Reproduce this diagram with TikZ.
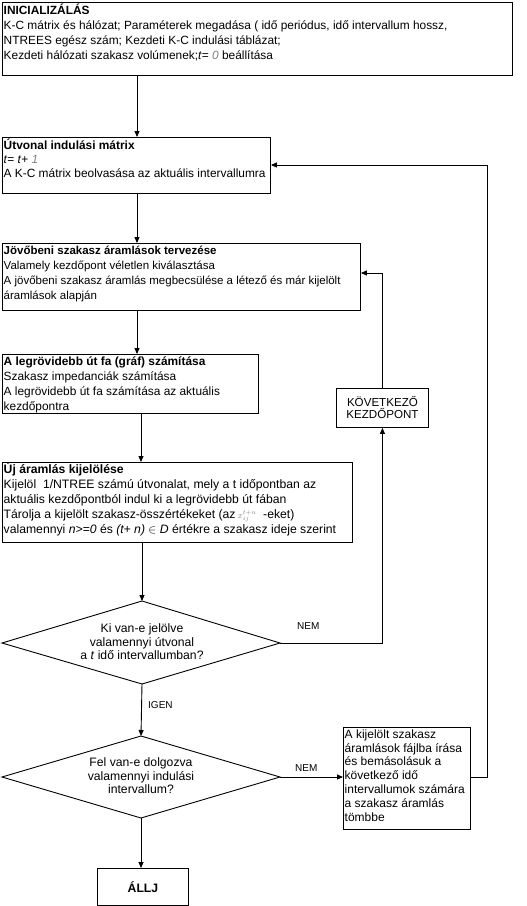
\documentclass[tikz,border=0pt]{standalone}
\usepackage{fontspec}
\setmainfont{Liberation Sans}
\usetikzlibrary{arrows.meta}
\begin{document}
\begin{tikzpicture}[x=1pt,y=-1pt,
  lw/.style={line width=0.9pt},
  tbox/.style={draw, lw, anchor=north west, inner sep=0pt},
  txt/.style={anchor=north west, align=left, inner sep=0pt, font=\fontsize{11.9}{15}\selectfont},
  txtb/.style={anchor=north west, align=left, inner sep=0pt, font=\fontsize{12}{13.8}\selectfont},
  ctxt/.style={align=center, inner sep=0pt, font=\fontsize{12.2}{13.5}\selectfont},
  arr/.style={lw, -{Triangle[width=5pt,length=6pt]}},
  lab/.style={font=\fontsize{10}{12}\selectfont, inner sep=0pt}]
\useasboundingbox (0,0) rectangle (527,906);
\fill[white] (0,0) rectangle (527,906);
\newcommand\fs{\rule{0pt}{10.5pt}}
% boxes
\node[tbox, minimum width=510pt, minimum height=73pt] (b1) at (2,2) {};
\node[txt] (t1) at ([shift={(1.5pt,-1.5pt)}]b1.north west) {\fs\textbf{INICIALIZÁLÁS}\\
K-C mátrix és hálózat; Paraméterek megadása ( idő periódus, idő intervallum hossz,\\
NTREES egész szám; Kezdeti K-C indulási táblázat;\\
Kezdeti hálózati szakasz volúmenek;\textit{t}= \textit{\textcolor{gray}{0}} beállítása};

\node[tbox, minimum width=268pt, minimum height=56pt] (b2) at (2,137) {};
\node[txt, font=\fontsize{11.9}{14}\selectfont] (t2) at ([shift={(1.5pt,-1.5pt)}]b2.north west) {\fs\textbf{Útvonal indulási mátrix}\\
\textit{t}= \textit{t}+ \textit{\textcolor{gray}{1}}\\
A K-C mátrix beolvasása az aktuális intervallumra};

\node[tbox, minimum width=358pt, minimum height=67pt] (b3) at (2,243) {};
\node[txt, font=\fontsize{11.5}{15}\selectfont] (t3) at ([shift={(1.5pt,-0.5pt)}]b3.north west) {\fs\textbf{Jövőbeni szakasz áramlások tervezése}\\
Valamely kezdőpont véletlen kiválasztása\\
A jövőbeni szakasz áramlás megbecsülése a létező és már kijelölt\\
áramlások alapján};

\node[tbox, minimum width=256pt, minimum height=59pt] (b4) at (2,354) {};
\node[txt] (t4) at ([shift={(1.5pt,-0.5pt)}]b4.north west) {\fs\textbf{A legrövidebb út fa (gráf) számítása}\\
Szakasz impedanciák számítása\\
A legrövidebb út fa számítása az aktuális\\
kezdőpontra};

\node[tbox, minimum width=92pt, minimum height=39pt] (k) at (336,388) {};
\node[ctxt, font=\fontsize{11.6}{12}\selectfont] (tk) at (k.center) {KÖVETKEZŐ\\KEZDŐPONT};

\node[tbox, minimum width=350pt, minimum height=80pt] (b5) at (2,462) {};
\node[txt, font=\fontsize{12.2}{15}\selectfont] (t5) at ([shift={(1.5pt,-0.5pt)}]b5.north west) {\fs\textbf{Új áramlás kijelölése}\\
Kijelöl\ \ 1/NTREE számú útvonalat, mely a t időpontban az\\
aktuális kezdőpontból indul ki a legrövidebb út fában\\
Tárolja a kijelölt szakasz-összértékeket (az\,\textcolor{gray}{$\scriptstyle x_{ij}^{t+n}$}\ \ -eket)\\
valamennyi \textit{n>=0} és \textit{(t+ n)} $\in$ \textit{D} értékre a szakasz ideje szerint};

\node[tbox, minimum width=127pt, minimum height=102pt] (b6) at (343,727) {};
\node[txtb] (t6) at ([shift={(1.5pt,-0.5pt)}]b6.north west) {\fs A kijelölt szakasz\\
áramlások fájlba írása\\
és bemásolásuk a\\
következő idő\\
intervallumok számára\\
a szakasz áramlás\\
tömbbe};

\node[tbox, minimum width=91pt, minimum height=37pt] (stop) at (97,868) {};
\node[ctxt] (ts) at (stop.center) {\textbf{ÁLLJ}};

% diamonds
\node[ctxt] (d1) at (142,642) {Ki van-e jelölve\\valamennyi útvonal\\a \textit{t} idő intervallumban?};
\coordinate (d1t) at (142,601);
\coordinate (d1r) at (280,643);
\coordinate (d1b) at (142,684);
\coordinate (d1l) at (2,643);
\draw[lw] (d1t) -- (d1r) -- (d1b) -- (d1l) -- cycle;

\node[ctxt] (d2) at (141,776) {Fel van-e dolgozva\\valamennyi indulási\\intervallum?};
\coordinate (d2t) at (141,736);
\coordinate (d2r) at (280,777);
\coordinate (d2b) at (141,818);
\coordinate (d2l) at (2,777);
\draw[lw] (d2t) -- (d2r) -- (d2b) -- (d2l) -- cycle;

% columns
\coordinate (c1) at (137,0);
\coordinate (c2) at (141,0);
\coordinate (ck) at (382,0);
\coordinate (cr) at (487,0);

\draw[arr] (b1.south -| c1) -- (b2.north -| c1);
\draw[arr] (b2.south -| c1) -- (b3.north -| c1);
\draw[arr] (b3.south -| c1) -- (b4.north -| c1);
\draw[arr] (b4.south -| c2) -- (b5.north -| c2);
\draw[arr] (b5.south -| d1t) -- (d1t);
\draw[arr] (d1b) -- (d2t);
\draw[arr] (d2b) -- (stop.north -| d2b);
\draw[arr] (d1r) -| (k.south);
\draw[arr] (k.north) |- (b3.east |- 0,273);
\draw[arr] (d2r) -- (b6.west |- d2r);
\draw[arr] (b6.east |- d2r) -| (cr |- 0,165) -- (b2.east |- 0,165);

\node[lab, anchor=west] (nem1) at (297,626) {NEM};
\node[lab, anchor=west] (igen) at (148,705) {IGEN};
\node[lab, anchor=west] (nem2) at (295,768) {NEM};
\end{tikzpicture}
\end{document}
